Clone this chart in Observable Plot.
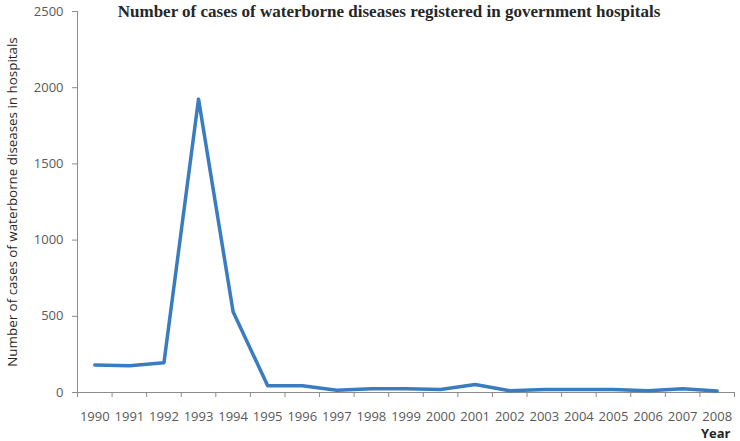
<!DOCTYPE html>
<html>
<head>
<meta charset="utf-8">
<script src="https://cdn.jsdelivr.net/npm/d3@7"></script>
<script src="https://cdn.jsdelivr.net/npm/@observablehq/plot@0.6"></script>
<style>
  html, body { margin: 0; padding: 0; background: #fff; }
</style>
</head>
<body>
<div id="chart"></div>
<script>
const years = [1990,1991,1992,1993,1994,1995,1996,1997,1998,1999,2000,2001,2002,2003,2004,2005,2006,2007,2008];
const cases = [180,175,195,1925,530,44,44,15,25,25,20,52,12,20,20,20,12,25,10];
const yTicks = [0,500,1000,1500,2000,2500];
const title = "Number of cases of waterborne diseases registered in government hospitals";
const yLabel = "Number of cases of waterborne diseases in hospitals";
const xLabel = "Year";

const data = years.map((y, i) => ({year: y, value: cases[i]}));
const boundaries = years.map(y => y - 0.5).concat([years[years.length - 1] + 0.5]);

const axisColor = "#8c8c8c";
const labelColor = "#595959";

const chart = Plot.plot({
  width: 740,
  height: 441,
  marginLeft: 77,
  marginRight: 6,
  marginTop: 11,
  marginBottom: 49,
  style: {fontFamily: "'Open Sans', sans-serif", fontSize: "13px", color: labelColor, background: "#fff"},
  x: {type: "linear", domain: [years[0] - 0.5, years[years.length - 1] + 0.5]},
  y: {domain: [0, 2500]},
  marks: [
    Plot.axisY({ticks: yTicks, tickSize: 5, tickPadding: 9, label: null, stroke: axisColor, fill: labelColor, tickFormat: d => String(d)}),
    Plot.axisX({ticks: boundaries, tickSize: 5, label: null, stroke: axisColor, tickFormat: () => ""}),
    Plot.axisX({ticks: years, tickSize: 0, tickPadding: 19, label: null, fill: labelColor, tickFormat: d => String(d)}),
    Plot.ruleX([years[0] - 0.5], {stroke: axisColor}),
    Plot.ruleY([0], {stroke: axisColor}),
    Plot.line(data, {x: "year", y: "value", stroke: "#3a7cc0", strokeWidth: 3.5, strokeLinejoin: "round", strokeLinecap: "round"}),
    Plot.text([title], {frameAnchor: "top", text: d => d, dx: -17, dy: 0, lineAnchor: "middle", fontFamily: "'Liberation Serif', serif", fontWeight: "bold", fontSize: 17, letterSpacing: 0.35, fill: "#262626"}),
    Plot.text([yLabel], {frameAnchor: "left", text: d => d, rotate: -90, dx: -65, textAnchor: "middle", lineAnchor: "middle", fontSize: 13.4, fill: "#262626"}),
    Plot.text([xLabel], {frameAnchor: "bottom-right", text: d => d, dx: -4, dy: 41, textAnchor: "end", lineAnchor: "middle", fontWeight: "bold", fontSize: 13, fill: "#262626"})
  ]
});
document.getElementById("chart").appendChild(chart);
</script>
</body>
</html>
